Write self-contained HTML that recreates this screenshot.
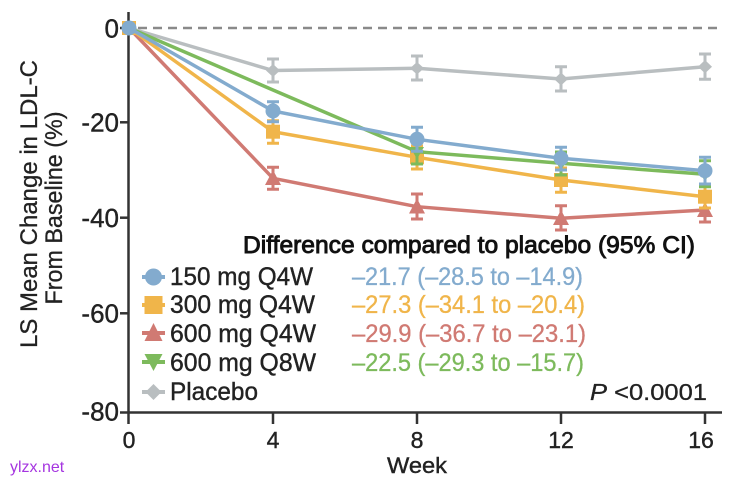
<!DOCTYPE html>
<html><head><meta charset="utf-8"><style>
html,body{margin:0;padding:0;background:#fff;}
svg{display:block;}
text{font-family:"Liberation Sans",sans-serif;}
</style></head><body>
<svg width="747" height="483" viewBox="0 0 747 483" xmlns="http://www.w3.org/2000/svg">
<rect width="747" height="483" fill="#fff"/>
<!-- dashed zero line -->
<line x1="138" y1="28" x2="722" y2="28" stroke="#8a8a8a" stroke-width="2.5" stroke-dasharray="9 6"/>
<!-- axes -->
<line x1="128.5" y1="12" x2="128.5" y2="424" stroke="#333" stroke-width="2.5"/>
<line x1="120" y1="412.5" x2="722" y2="412.5" stroke="#333" stroke-width="2.5"/>
<g stroke="#333" stroke-width="2.5">
<line x1="120" y1="28" x2="128" y2="28"/><line x1="120" y1="122.3" x2="128" y2="122.3"/><line x1="120" y1="217.7" x2="128" y2="217.7"/><line x1="120" y1="313.3" x2="128" y2="313.3"/>
<line x1="273" y1="412" x2="273" y2="424"/><line x1="417" y1="412" x2="417" y2="424"/><line x1="561" y1="412" x2="561" y2="424"/><line x1="705" y1="412" x2="705" y2="424"/>
</g>
<!-- y tick labels -->
<g font-size="26" fill="#222" stroke="#222" stroke-width="0.4" text-anchor="end">
<text x="119" y="37.5">0</text>
<text x="119" y="131.5">-20</text>
<text x="119" y="227">-40</text>
<text x="119" y="322.5">-60</text>
<text x="119" y="420.5">-80</text>
</g>
<!-- x tick labels -->
<g font-size="23" fill="#222" stroke="#222" stroke-width="0.4" text-anchor="middle">
<text x="129" y="448">0</text>
<text x="273" y="448">4</text>
<text x="417" y="448">8</text>
<text x="561" y="448">12</text>
<text x="701" y="448">16</text>
</g>
<text x="417" y="473" font-size="22" fill="#222" stroke="#222" stroke-width="0.4" text-anchor="middle" textLength="60" lengthAdjust="spacingAndGlyphs">Week</text>
<!-- y axis label -->
<text transform="translate(37,204) rotate(-90)" font-size="24" fill="#222" stroke="#222" stroke-width="0.3" text-anchor="middle" textLength="288" lengthAdjust="spacingAndGlyphs">LS Mean Change in LDL-C</text>
<text transform="translate(62,208) rotate(-90)" font-size="24" fill="#222" stroke="#222" stroke-width="0.3" text-anchor="middle" textLength="193" lengthAdjust="spacingAndGlyphs">From Baseline (%)</text>

<!-- Placebo -->
<g stroke="#b9bec0" stroke-width="3" fill="none">
<polyline points="129,28 273,70.5 417,68.3 561,79 705,66.7" stroke-width="3.5"/>
<path d="M273,59V82M267,59H279M267,82H279 M417,56V80M411,56H423M411,80H423 M561,66.7V91M555,66.7H567M555,91H567 M705,54V79.3M699,54H711M699,79.3H711"/>
</g>
<g fill="#b9bec0">
<path d="M273,64 L280,70.5 L273,77 L266,70.5Z"/>
<path d="M417,62 L424,68.3 L417,74.5 L410,68.3Z"/>
<path d="M561,72.5 L568,79 L561,85.5 L554,79Z"/>
<path d="M705,60 L712,66.7 L705,73.4 L698,66.7Z"/>
</g>

<!-- Red 600 Q4W -->
<g stroke="#d07a73" stroke-width="3" fill="none">
<polyline points="129,28 273,178.3 417,206.7 561,218.3 705,210" stroke-width="3.5"/>
<path d="M273,167.3V189.3M267,167.3H279M267,189.3H279 M417,194V219M411,194H423M411,219H423 M561,205.7V230M555,205.7H567M555,230H567 M705,198V222M699,198H711M699,222H711"/>
</g>
<g fill="#d07a73">
<path d="M273,170 L281,185 L265,185Z"/>
<path d="M417,198.5 L425,213.5 L409,213.5Z"/>
<path d="M561,210 L569,225 L553,225Z"/>
<path d="M705,202 L713,217 L697,217Z"/>
</g>

<!-- Orange 300 Q4W -->
<g stroke="#f0b54a" stroke-width="3" fill="none">
<polyline points="129,28 273,131.7 417,157.3 561,180 705,196.7" stroke-width="3.5"/>
<path d="M273,120.7V143.3M267,120.7H279M267,143.3H279 M417,146V169M411,146H423M411,169H423 M561,168V192.3M555,168H567M555,192.3H567 M705,185V208M699,185H711M699,208H711"/>
</g>
<g fill="#f0b54a">
<rect x="266" y="124.7" width="14" height="14"/>
<rect x="410" y="150.3" width="14" height="14"/>
<rect x="554" y="173" width="14" height="14"/>
<rect x="698" y="189.7" width="14" height="14"/>
<rect x="122" y="21" width="14" height="14"/>
</g>

<!-- Green 600 Q8W -->
<g stroke="#7dba5c" stroke-width="3" fill="none">
<polyline points="129,28 273,90 417,151.7 561,163.3 705,174.3" stroke-width="3.5"/>
<path d="M417,140V164M411,140H423M411,164H423 M561,152V175M555,152H567M555,175H567 M705,160.7V186.7M699,160.7H711M699,186.7H711"/>
</g>
<g fill="#7dba5c">
<path d="M410,147 L424,147 L417,159Z"/>
<path d="M554,158.5 L568,158.5 L561,170.5Z"/>
<path d="M698,169.5 L712,169.5 L705,181.5Z"/>
</g>

<!-- Blue 150 Q4W -->
<g stroke="#83abce" stroke-width="3" fill="none">
<polyline points="129,28 273,111 417,139.3 561,158.3 705,170.7" stroke-width="3.5"/>
<path d="M273,101.7V121.7M267,101.7H279M267,121.7H279 M417,127.3V151.3M411,127.3H423M411,151.3H423 M561,147.3V170M555,147.3H567M555,170H567 M705,157.3V184M699,157.3H711M699,184H711"/>
</g>
<g fill="#83abce">
<circle cx="273" cy="111" r="7.5"/>
<circle cx="417" cy="139.3" r="7.5"/>
<circle cx="561" cy="158.3" r="7.5"/>
<circle cx="705" cy="170.7" r="7.5"/>
<circle cx="129" cy="28" r="7.5"/>
</g>

<!-- Legend header -->
<text x="243" y="253" font-size="24" fill="#111" stroke="#111" stroke-width="0.9" textLength="452" lengthAdjust="spacingAndGlyphs">Difference compared to placebo (95% CI)</text>

<!-- Legend markers -->
<g stroke-width="4">
<line x1="142" y1="277" x2="165" y2="277" stroke="#83abce"/>
<line x1="142" y1="305" x2="165" y2="305" stroke="#f0b54a"/>
<line x1="142" y1="333" x2="165" y2="333" stroke="#d07a73"/>
<line x1="142" y1="362" x2="165" y2="362" stroke="#7dba5c"/>
<line x1="142" y1="392" x2="165" y2="392" stroke="#b9bec0"/>
</g>
<circle cx="153.5" cy="277" r="8.5" fill="#83abce"/>
<rect x="144.5" y="296" width="18" height="18" fill="#f0b54a"/>
<path d="M153.5,323 L162.5,341 L144.5,341Z" fill="#d07a73"/>
<path d="M144.5,354 L162.5,354 L153.5,371Z" fill="#7dba5c"/>
<path d="M153.5,384 L161.5,392 L153.5,400 L145.5,392Z" fill="#b9bec0"/>

<g font-size="25" fill="#222" stroke="#222" stroke-width="0.4">
<text x="170" y="285" textLength="143" lengthAdjust="spacingAndGlyphs">150 mg Q4W</text>
<text x="170" y="313" textLength="145" lengthAdjust="spacingAndGlyphs">300 mg Q4W</text>
<text x="170" y="342" textLength="146" lengthAdjust="spacingAndGlyphs">600 mg Q4W</text>
<text x="170" y="371" textLength="146" lengthAdjust="spacingAndGlyphs">600 mg Q8W</text>
<text x="170" y="400" textLength="88" lengthAdjust="spacingAndGlyphs">Placebo</text>
</g>
<g font-size="25" stroke-width="0.3">
<text x="352" y="285" fill="#83abce" stroke="#83abce" textLength="231" lengthAdjust="spacingAndGlyphs">–21.7 (–28.5 to –14.9)</text>
<text x="352" y="313" fill="#f0b54a" stroke="#f0b54a" textLength="233" lengthAdjust="spacingAndGlyphs">–27.3 (–34.1 to –20.4)</text>
<text x="352" y="342" fill="#d07a73" stroke="#d07a73" textLength="234" lengthAdjust="spacingAndGlyphs">–29.9 (–36.7 to –23.1)</text>
<text x="352" y="371" fill="#7dba5c" stroke="#7dba5c" textLength="232" lengthAdjust="spacingAndGlyphs">–22.5 (–29.3 to –15.7)</text>
</g>
<text x="590" y="400" font-size="23" fill="#222" stroke="#222" stroke-width="0.3" textLength="117" lengthAdjust="spacingAndGlyphs"><tspan font-style="italic">P</tspan> &lt;0.0001</text>

<text x="10" y="472" font-size="16" fill="#a535e0">ylzx.net</text>
</svg>
</body></html>
